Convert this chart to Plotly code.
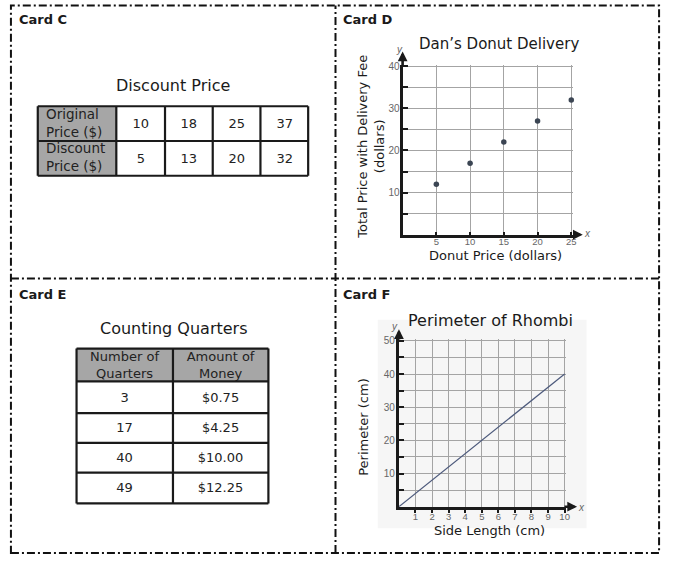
import plotly.graph_objects as go

W, H = 675, 561

# ---------------- data ----------------
# Card C
c_title = "Discount Price"
c_row_labels = ["Original<br>Price ($)", "Discount<br>Price ($)"]
c_original = [10, 18, 25, 37]
c_discount = [5, 13, 20, 32]

# Card D
d_title = "Dan’s Donut Delivery"
d_xlabel = "Donut Price (dollars)"
d_ylabel = "Total Price with Delivery Fee<br>(dollars)"
d_donut_price = [5, 10, 15, 20, 25]
d_total_price = [12, 17, 22, 27, 32]
d_x_ticks = [5, 10, 15, 20, 25]
d_y_ticks = [5, 10, 15, 20, 25, 30, 35, 40]
d_y_labels = ["", "10", "", "20", "", "30", "", "40"]

# Card E
e_title = "Counting Quarters"
e_headers = ["Number of<br>Quarters", "Amount of<br>Money"]
e_quarters = [3, 17, 40, 49]
e_money = ["$0.75", "$4.25", "$10.00", "$12.25"]

# Card F
f_title = "Perimeter of Rhombi"
f_xlabel = "Side Length (cm)"
f_ylabel = "Perimeter (cm)"
f_side = [0, 10]
f_perimeter = [0, 40]
f_x_ticks = [1, 2, 3, 4, 5, 6, 7, 8, 9, 10]
f_y_ticks = [5, 10, 15, 20, 25, 30, 35, 40, 45, 50]
f_y_labels = ["", "10", "", "20", "", "30", "", "40", "", "50"]

card_names = ["Card C", "Card D", "Card E", "Card F"]

# ---------------- styles ----------------
FONT = "DejaVu Sans"
TICKFONT = "Liberation Sans"
INK = "#1a1a1a"
GRAY_FILL = "#a6a6a6"
GRID = "#a4a4a4"


def px(x):
    return x / W


def py(y):
    return 1 - y / H


def cum(vals):
    out = [0]
    for v in vals:
        out.append(out[-1] + v)
    return out


fig = go.Figure()
shapes = []
annotations = []

# ---------------- Card C table ----------------
PAD = 2
c_left, c_top = 38, 103
c_colw = [79, 49, 48, 48, 48]
c_rowh = [35, 35]
c_xe = cum(c_colw)
c_ye = cum(c_rowh)
c_z = [[1] + [0] * len(c_original), [1] + [0] * len(c_discount)]
c_text = [[""] + [str(v) for v in c_original], [""] + [str(v) for v in c_discount]]
fig.add_trace(go.Heatmap(
    x=c_xe, y=c_ye, z=c_z, text=c_text, texttemplate="%{text}",
    textfont=dict(family=FONT, size=13, color="#222"),
    colorscale=[[0, "white"], [1, GRAY_FILL]], zmin=0, zmax=1,
    showscale=False, hoverinfo="skip", xaxis="x", yaxis="y"))
for xe in c_xe:
    shapes.append(dict(type="line", xref="x", yref="y", x0=xe, x1=xe, y0=0, y1=c_ye[-1],
                       line=dict(color=INK, width=2.2)))
for ye in c_ye:
    shapes.append(dict(type="line", xref="x", yref="y", x0=0, x1=c_xe[-1], y0=ye, y1=ye,
                       line=dict(color=INK, width=2.2)))
for i, lab in enumerate(c_row_labels):
    annotations.append(dict(xref="x", yref="y", x=6, y=(c_ye[i] + c_ye[i + 1]) / 2 - 1,
                            text=lab, showarrow=False, xanchor="left", yanchor="middle",
                            align="left", font=dict(family=FONT, size=13.5, color="#222")))

# ---------------- Card E table ----------------
e_left, e_top = 77, 347
e_colw = [97, 96]
e_rowh = [33, 32, 30, 30, 31]
e_xe = cum(e_colw)
e_ye = cum(e_rowh)
e_z = [[1, 1]] + [[0, 0] for _ in e_quarters]
e_text = [e_headers] + [[str(q), m] for q, m in zip(e_quarters, e_money)]
fig.add_trace(go.Heatmap(
    x=e_xe, y=e_ye, z=e_z, text=e_text, texttemplate="%{text}",
    textfont=dict(family=FONT, size=13, color="#222"),
    colorscale=[[0, "white"], [1, GRAY_FILL]], zmin=0, zmax=1,
    showscale=False, hoverinfo="skip", xaxis="x3", yaxis="y3"))
for xe in e_xe:
    shapes.append(dict(type="line", xref="x3", yref="y3", x0=xe, x1=xe, y0=0, y1=e_ye[-1],
                       line=dict(color=INK, width=2.2)))
for ye in e_ye:
    shapes.append(dict(type="line", xref="x3", yref="y3", x0=0, x1=e_xe[-1], y0=ye, y1=ye,
                       line=dict(color=INK, width=2.2)))

# ---------------- Card D scatter ----------------
d_ox, d_oy = 405.0, 232.4          # pixel position of origin
d_sx, d_sy = 6.788, 4.2425         # pixels per unit
d_xr, d_yr = [0, 25.3], [0, 40.35]
fig.add_trace(go.Scatter(
    x=d_donut_price, y=d_total_price, mode="markers",
    marker=dict(color="#3b4553", size=5.5), hoverinfo="skip",
    xaxis="x2", yaxis="y2", cliponaxis=False))

# ---------------- Card F line ----------------
f_ox, f_oy = 401.3, 506.3
f_sx, f_sy = 16.67, 3.34
f_xr, f_yr = [0, 10.1], [0, 50.45]
shapes.append(dict(type="rect", xref="paper", yref="paper", x0=px(380), x1=px(590),
                   y0=py(528), y1=py(318), fillcolor="#f6f6f6", line=dict(width=0),
                   layer="below"))
fig.add_trace(go.Scatter(
    x=f_side, y=f_perimeter, mode="lines",
    line=dict(color="#4d5a7c", width=1.2), hoverinfo="skip",
    xaxis="x4", yaxis="y4"))


def table_axes(left, top, widths, heights):
    tw, th = sum(widths), sum(heights)
    xa = dict(domain=[px(left - PAD), px(left + tw + PAD)], range=[-PAD, tw + PAD],
              visible=False, fixedrange=True)
    ya = dict(domain=[py(top + th + PAD), py(top - PAD)], range=[th + PAD, -PAD],
              visible=False, fixedrange=True)
    return xa, ya


def chart_axes(ox, oy, sx, sy, xr, yr, xt, xtt, yt, ytt, xanchor, yanchor, xtick,
               xstand, ystand, xfs):
    common = dict(showline=True, linecolor=INK, linewidth=3, showgrid=True,
                  gridcolor=GRID, gridwidth=1, zeroline=False, fixedrange=True,
                  tickwidth=2, tickcolor=INK)
    xa = dict(domain=[px(ox + xr[0] * sx), px(ox + xr[1] * sx)], range=xr,
              tickmode="array", tickvals=xt, ticktext=xtt, anchor=yanchor,
              ticks=xtick, ticklen=3, ticklabelstandoff=xstand,
              tickfont=dict(family=TICKFONT, size=xfs, color="#666"), **common)
    ya = dict(domain=[py(oy - yr[0] * sy), py(oy - yr[1] * sy)], range=yr,
              tickmode="array", tickvals=yt, ticktext=ytt, anchor=xanchor,
              ticks="inside", ticklen=5, ticklabelstandoff=ystand,
              tickfont=dict(family=TICKFONT, size=10, color="#666"), **common)
    return xa, ya


xa1, ya1 = table_axes(c_left, c_top, c_colw, c_rowh)
xa3, ya3 = table_axes(e_left, e_top, e_colw, e_rowh)
xa2, ya2 = chart_axes(d_ox, d_oy, d_sx, d_sy, d_xr, d_yr,
                      d_x_ticks, [str(v) for v in d_x_ticks], d_y_ticks, d_y_labels,
                      "x2", "y2", "inside", -4, -2, 9.5)
xa4, ya4 = chart_axes(f_ox, f_oy, f_sx, f_sy, f_xr, f_yr,
                      f_x_ticks, [str(v) for v in f_x_ticks], f_y_ticks, f_y_labels,
                      "x4", "y4", "outside", -4, -1, 9.5)
xa1["anchor"] = "y"; ya1["anchor"] = "x"
xa3["anchor"] = "y3"; ya3["anchor"] = "x3"

# axis arrows
for xr_, yr_, xname, yname, ext_x, ext_y in [
        (d_xr, d_yr, "x2", "y2", 26.7, 43.5),
        (f_xr, f_yr, "x4", "y4", 10.75, 53.5)]:
    annotations.append(dict(xref=xname, yref=yname, axref=xname, ayref=yname,
                            x=ext_x, y=0, ax=xr_[1] - 0.2, ay=0, text="", showarrow=True,
                            arrowhead=2, arrowsize=0.75, arrowwidth=2.6, arrowcolor=INK))
    annotations.append(dict(xref=xname, yref=yname, axref=xname, ayref=yname,
                            x=0, y=ext_y, ax=0, ay=yr_[1] - 0.5, text="", showarrow=True,
                            arrowhead=2, arrowsize=0.75, arrowwidth=2.6, arrowcolor=INK))


def ann(x, y, text, size=13, xanchor="center", angle=0, color=INK, family=FONT):
    annotations.append(dict(xref="paper", yref="paper", x=px(x), y=py(y), text=text,
                            showarrow=False, xanchor=xanchor, yanchor="middle",
                            textangle=angle, font=dict(family=family, size=size, color=color)))


# card labels
for name, (x, y) in zip(card_names, [(17, 16), (343, 16), (17, 293), (343, 293)]):
    ann(x, y, "<b>" + name + "</b>", size=13, xanchor="left")

# titles
ann(174, 82, c_title, size=16)
ann(502, 40, d_title, size=15)
ann(175, 327, e_title, size=16)
ann(493, 319, f_title, size=16)

# axis titles
ann(498, 253, d_xlabel, size=13)
ann(373, 144, d_ylabel, size=13, angle=-90)
ann(492, 530, f_xlabel, size=13)
ann(366, 426, f_ylabel, size=13, angle=-90)

# x / y axis letters
for x, y, t in [(402, 46, "y"), (591, 231, "x"), (397, 325, "y"), (585, 507, "x")]:
    ann(x, y, "<i>" + t + "</i>", size=10, color="#666", family=TICKFONT)

# dashed card borders
BORDER = dict(color="#111", width=2, dash="8px,3px,2px,3px")
shapes.append(dict(type="rect", xref="paper", yref="paper", x0=px(11), x1=px(663),
                   y0=py(553), y1=py(1.5), line=BORDER, layer="above"))
shapes.append(dict(type="line", xref="paper", yref="paper", x0=px(337.5), x1=px(337.5),
                   y0=py(553), y1=py(1.5), line=BORDER, layer="above"))
shapes.append(dict(type="line", xref="paper", yref="paper", x0=px(11), x1=px(663),
                   y0=py(276.5), y1=py(276.5), line=BORDER, layer="above"))

fig.update_layout(
    width=W, height=H, margin=dict(l=0, r=0, t=0, b=0),
    paper_bgcolor="white", plot_bgcolor="rgba(0,0,0,0)",
    showlegend=False,
    xaxis=xa1, yaxis=ya1, xaxis2=xa2, yaxis2=ya2,
    xaxis3=xa3, yaxis3=ya3, xaxis4=xa4, yaxis4=ya4,
    shapes=shapes, annotations=annotations,
)

fig.write_html("out.html", config=dict(displayModeBar=False))
